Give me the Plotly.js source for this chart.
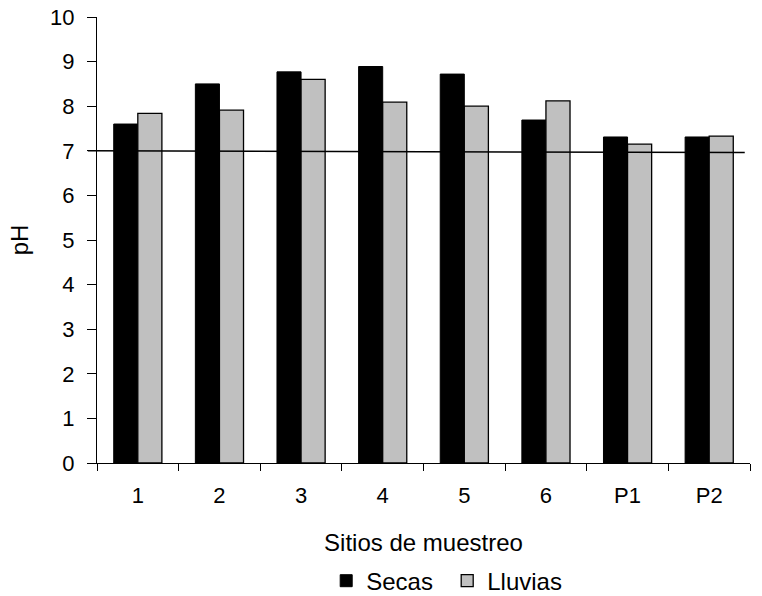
<!DOCTYPE html>
<html>
<head>
<meta charset="utf-8">
<script src="https://cdn.plot.ly/plotly-3.0.1.min.js"></script>
<style>html,body{margin:0;padding:0;background:#fff;}#chart{width:762px;height:596px;}</style>
</head>
<body>
<div id="chart"></div>
<script>
const sites = ["1", "2", "3", "4", "5", "6", "P1", "P2"];
const secas = [7.60, 8.50, 8.77, 8.89, 8.72, 7.69, 7.31, 7.31];
const lluvias = [7.84, 7.91, 8.60, 8.09, 8.00, 8.12, 7.15, 7.33];
const neutralLine = [7.0, 6.96];
const yTicks = [0, 1, 2, 3, 4, 5, 6, 7, 8, 9, 10];

const fam = "Liberation Sans, Arial, sans-serif";
const tickFont = {family: fam, size: 22, color: "#000"};
const titleFont = {family: fam, size: 24, color: "#000"};

const data = [
  {type: "bar", name: "Secas", x: sites, y: secas,
   marker: {color: "#000000", line: {color: "#000000", width: 1}}},
  {type: "bar", name: "Lluvias", x: sites, y: lluvias,
   marker: {color: "#c0c0c0", line: {color: "#000000", width: 1.3}}}
];

const layout = {
  width: 762, height: 596,
  margin: {l: 97, r: 12, t: 17, b: 133},
  paper_bgcolor: "#fff", plot_bgcolor: "#fff",
  font: titleFont,
  barmode: "group", bargap: 0.41, bargroupgap: 0,
  showlegend: true,
  legend: {orientation: "h", xref: "paper", x: 0.351, xanchor: "left",
           yref: "container", y: 0.025, yanchor: "middle",
           font: titleFont, itemwidth: 30, entrywidth: 76, entrywidthmode: "pixels"},
  xaxis: {
    type: "category", showline: true, linecolor: "#000", linewidth: 1,
    ticks: "outside", tickson: "boundaries", ticklen: 7, tickcolor: "#000",
    ticklabelstandoff: 13,
    showgrid: false, zeroline: false, automargin: false,
    title: {text: "Sitios de muestreo", font: titleFont, standoff: 26},
    tickfont: tickFont
  },
  yaxis: {
    range: [0, 10], tickvals: yTicks, ticktext: yTicks.map(String),
    showline: true, linecolor: "#000", linewidth: 1,
    ticks: "outside", ticklen: 9, tickcolor: "#000",
    ticklabelstandoff: 8,
    showgrid: false, zeroline: false, automargin: false,
    title: {text: "pH", font: titleFont, standoff: 14},
    tickfont: tickFont
  },
  shapes: [
    {type: "line", xref: "paper", yref: "y", x0: -0.014, x1: 0.992,
     y0: neutralLine[0], y1: neutralLine[1], line: {color: "#000", width: 1.5}, layer: "above"}
  ]
};

Plotly.newPlot("chart", data, layout, {displayModeBar: false, staticPlot: true});
</script>
</body>
</html>
